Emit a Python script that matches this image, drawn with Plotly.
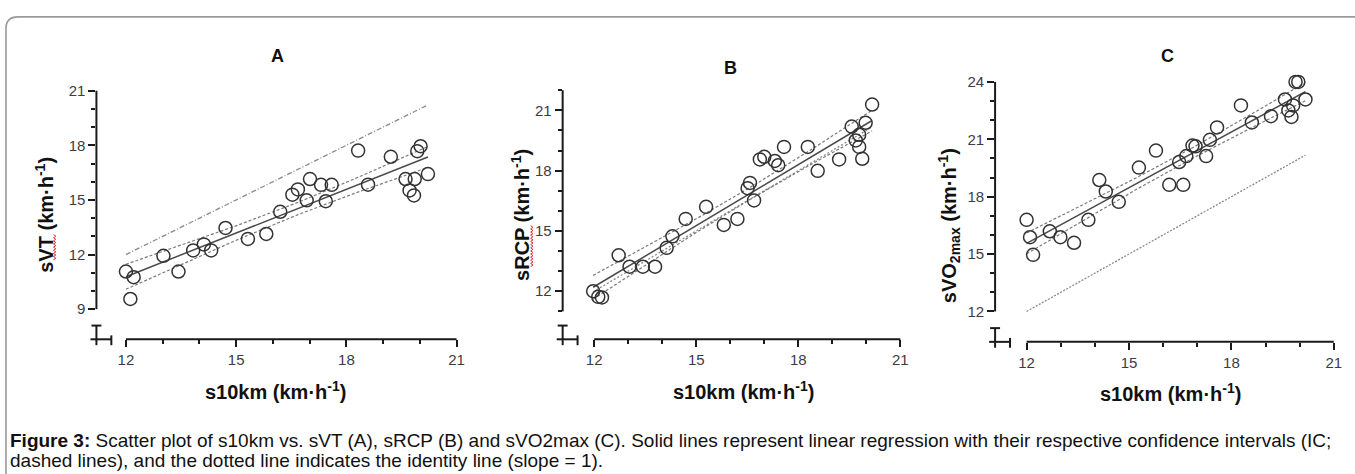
import numpy as np
import plotly.graph_objects as go

W, H = 1355, 474

# ---------------- data ----------------
x_ticks = [12, 15, 18, 21]
x_minor = [13, 14, 16, 17, 19, 20]

a_s10km = [12.0, 12.21, 12.12, 13.02, 13.43, 13.83, 14.12, 14.32, 14.71, 15.32,
           15.82, 16.2, 16.53, 16.68, 16.92, 17.01, 17.31, 17.44, 17.6, 18.32,
           18.59, 19.21, 19.61, 19.72, 19.84, 19.86, 19.93, 20.02, 20.22]
a_svt = [11.07, 10.76, 9.56, 11.93, 11.07, 12.23, 12.56, 12.23, 13.46, 12.86,
         13.13, 14.35, 15.29, 15.58, 14.98, 16.15, 15.83, 14.93, 15.83, 17.71,
         15.84, 17.37, 16.15, 15.52, 15.25, 16.15, 17.68, 17.95, 16.42]

b_s10km = [11.97, 12.12, 12.23, 12.72, 13.04, 13.43, 13.79, 14.13, 14.3, 14.69,
           15.29, 15.81, 16.21, 16.51, 16.58, 16.7, 16.87, 17.0, 17.31, 17.41,
           17.58, 18.28, 18.57, 19.2, 19.57, 19.69, 19.79, 19.79, 19.88, 19.98, 20.17]
b_srcp = [12.0, 11.72, 11.69, 13.79, 13.22, 13.22, 13.22, 14.16, 14.73, 15.6,
          16.2, 15.3, 15.6, 17.13, 17.39, 16.52, 18.56, 18.69, 18.48, 18.27,
          19.18, 19.18, 17.99, 18.56, 20.19, 19.5, 19.78, 19.18, 18.59, 20.38, 21.29]

c_s10km = [12.0, 12.1, 12.19, 12.68, 12.99, 13.39, 13.81, 14.13, 14.32, 14.7,
           15.29, 15.79, 16.18, 16.59, 16.47, 16.68, 16.86, 16.95, 17.26, 17.37,
           17.58, 18.28, 18.6, 19.16, 19.57, 19.67, 19.76, 19.81, 19.88, 19.96, 20.17]
c_svo2max = [16.79, 15.88, 14.96, 16.19, 15.88, 15.59, 16.79, 18.87, 18.27, 17.73,
             19.52, 20.41, 18.62, 18.62, 19.81, 20.12, 20.67, 20.63, 20.12, 20.97,
             21.62, 22.77, 21.88, 22.21, 23.08, 22.51, 22.17, 22.77, 24.0, 24.0, 23.08]

yA_ticks = [9, 12, 15, 18, 21]
yA_minor = [10, 11, 13, 14, 16, 17, 19, 20]
yB_ticks = [12, 15, 18, 21]
yB_minor = [11, 13, 14, 16, 17, 19, 20, 22]
yC_ticks = [12, 15, 18, 21, 24]
yC_minor = [13, 14, 16, 17, 19, 20, 22, 23]

panel_titles = ["A", "B", "C"]
y_titles = ["sVT (km·h<sup>-1</sup>)", "sRCP (km·h<sup>-1</sup>)",
            "sVO<sub>2max</sub> (km·h<sup>-1</sup>)"]
x_title = "s10km (km·h<sup>-1</sup>)"
caption1 = ("<b>Figure 3:</b> Scatter plot of s10km vs. sVT (A), sRCP (B) and sVO2max (C). "
            "Solid lines represent linear regression with their respective confidence intervals (IC;")
caption2 = "dashed lines), and the dotted line indicates the identity line (slope = 1)."

T_CRIT = 2.05  # two-sided 95% t value (df ~ 27-29)

# ---------------- layout geometry (pixels) ----------------
panels = [
    dict(x=a_s10km, y=a_svt, yt=yA_ticks, ym=yA_minor, yax=(9, 21),
         X0=97, x12=126.7, x21=459.3, Yb=336.7, Yt=83.3, yref=(9, 306.0, 21, 83.3),
         title_xy=(279, 48), ytitle_xy=(44, 210), xtitle_xy=(277, 389),
         squig=(55, 230, 257), ident_dash="5px,2px,1px,2px"),
    dict(x=b_s10km, y=b_srcp, yt=yB_ticks, ym=yB_minor, yax=(11, 22),
         X0=566, x12=597.7, x21=905.7, Yb=336.7, Yt=82.7, yref=(12, 287.7, 21, 103.3),
         title_xy=(735, 60), ytitle_xy=(523, 210), xtitle_xy=(748, 389),
         squig=(535, 221, 263), ident_dash="2px,2px"),
    dict(x=c_s10km, y=c_svo2max, yt=yC_ticks, ym=yC_minor, yax=(12, 24),
         X0=1001, x12=1032.7, x21=1341.7, Yb=339.3, Yt=74.3, yref=(12, 308.3, 24, 74.3),
         title_xy=(1174, 48), ytitle_xy=(955, 221), xtitle_xy=(1177, 391),
         squig=None, ident_dash="2px,1.5px"),
]


def fx(p):
    return p / W


def fy(p):
    return 1 - p / H


FONT = "Liberation Sans, Arial, sans-serif"
AX = "#1a1a1a"
fig = go.Figure()
shapes = []
annotations = []

for i, P in enumerate(panels, start=1):
    xa = "x" if i == 1 else f"x{i}"
    ya = "y" if i == 1 else f"y{i}"
    xppu = (P["x21"] - P["x12"]) / 9.0
    xmin = 12 - (P["x12"] - P["X0"]) / xppu
    v_lo, p_lo, v_hi, p_hi = P["yref"]
    yppu = (p_lo - p_hi) / (v_hi - v_lo)
    ymin = v_lo - (P["Yb"] - p_lo) / yppu
    ymax = v_hi + (p_hi - P["Yt"]) / yppu

    def ypx(v, v_lo=v_lo, p_lo=p_lo, yppu=yppu):
        return p_lo - (v - v_lo) * yppu

    def xpx(v, P=P, xppu=xppu):
        return P["x12"] + (v - 12) * xppu

    x = np.array(P["x"], dtype=float)
    y = np.array(P["y"], dtype=float)
    n = len(x)
    slope, icpt = np.polyfit(x, y, 1)
    xs = np.linspace(x.min(), x.max(), 60)
    yfit = slope * xs + icpt
    resid = y - (slope * x + icpt)
    s = np.sqrt(np.sum(resid ** 2) / (n - 2))
    sxx = np.sum((x - x.mean()) ** 2)
    half = T_CRIT * s * np.sqrt(1.0 / n + (xs - x.mean()) ** 2 / sxx)

    ident = np.array([x.min(), x.max()])
    fig.add_trace(go.Scatter(x=ident, y=ident, mode="lines", xaxis=xa, yaxis=ya,
                             line=dict(color="#8a8a8a", width=1.3, dash=P["ident_dash"]),
                             hoverinfo="skip"))
    for band in (yfit + half, yfit - half):
        fig.add_trace(go.Scatter(x=xs, y=band, mode="lines", xaxis=xa, yaxis=ya,
                                 line=dict(color="#7a7a7a", width=1.2, dash="3px,2px"),
                                 hoverinfo="skip"))
    fig.add_trace(go.Scatter(x=xs, y=yfit, mode="lines", xaxis=xa, yaxis=ya,
                             line=dict(color="#4a4a4a", width=1.5), hoverinfo="skip"))
    fig.add_trace(go.Scatter(x=x, y=y, mode="markers", xaxis=xa, yaxis=ya, cliponaxis=False,
                             marker=dict(symbol="circle-open", size=13, color="#333333",
                                         line=dict(width=1.5, color="#333333"))))

    tickfont = dict(family=FONT, size=15, color="#3c3c48")
    fig.update_layout(**{
        ("xaxis" if i == 1 else f"xaxis{i}"): dict(
            domain=[fx(P["X0"]), fx(P["x21"])], range=[xmin, 21], anchor=ya,
            showline=False, showgrid=False, zeroline=False,
            tickmode="array", tickvals=x_ticks, ticktext=[str(t) for t in x_ticks],
            ticks="outside", ticklen=7, tickwidth=2, tickcolor=AX, tickfont=tickfont,
            minor=dict(tickmode="array", tickvals=x_minor, ticks="outside",
                       ticklen=4, tickwidth=2, tickcolor=AX, showgrid=False),
            fixedrange=True),
        ("yaxis" if i == 1 else f"yaxis{i}"): dict(
            domain=[fy(P["Yb"]), fy(P["Yt"])], range=[ymin, ymax], anchor=xa,
            showline=False, showgrid=False, zeroline=False,
            tickmode="array", tickvals=P["yt"], ticktext=[str(t) for t in P["yt"]],
            ticks="outside", ticklen=7, tickwidth=2, tickcolor=AX, tickfont=tickfont,
            minor=dict(tickmode="array", tickvals=P["ym"], ticks="outside",
                       ticklen=4, tickwidth=2, tickcolor=AX, showgrid=False),
            fixedrange=True),
    })

    # axis lines (offset, Prism style)
    X0, Yb = P["X0"], P["Yb"]
    line = dict(color=AX, width=2)
    shapes.append(dict(type="line", xref="paper", yref="paper",
                       x0=fx(xpx(12)), x1=fx(xpx(21)), y0=fy(Yb), y1=fy(Yb), line=line))
    shapes.append(dict(type="line", xref="paper", yref="paper",
                       x0=fx(X0), x1=fx(X0), y0=fy(ypx(P["yax"][0])), y1=fy(ypx(P["yax"][1])),
                       line=line))
    # origin stub
    shapes.append(dict(type="line", xref="paper", yref="paper",
                       x0=fx(X0), x1=fx(X0), y0=fy(Yb - 14), y1=fy(Yb + 6), line=line))
    shapes.append(dict(type="line", xref="paper", yref="paper",
                       x0=fx(X0 - 5), x1=fx(X0 + 5), y0=fy(Yb - 14), y1=fy(Yb - 14), line=line))
    shapes.append(dict(type="line", xref="paper", yref="paper",
                       x0=fx(X0 - 6), x1=fx(X0 + 15), y0=fy(Yb), y1=fy(Yb), line=line))
    shapes.append(dict(type="line", xref="paper", yref="paper",
                       x0=fx(X0 + 15), x1=fx(X0 + 15), y0=fy(Yb - 4), y1=fy(Yb + 6), line=line))

    # red spell-check squiggle
    if P["squig"] is not None:
        sx, sy0, sy1 = P["squig"]
        pts = []
        yy = sy0
        k = 0
        while yy <= sy1:
            pts.append((sx + (1.2 if k % 2 else -1.2), yy))
            yy += 1.6
            k += 1
        path = "M " + " L ".join(f"{fx(a):.5f},{fy(b):.5f}" for a, b in pts)
        shapes.append(dict(type="path", xref="paper", yref="paper", path=path,
                           line=dict(color="#e03030", width=1)))

    tx, ty = P["title_xy"]
    annotations.append(dict(text=f"<b>{panel_titles[i-1]}</b>", x=fx(tx), y=fy(ty),
                            xref="paper", yref="paper", showarrow=False,
                            xanchor="center", yanchor="middle",
                            font=dict(family=FONT, size=18, color="#111")))
    tx, ty = P["ytitle_xy"]
    annotations.append(dict(text=f"<b>{y_titles[i-1]}</b>", x=fx(tx), y=fy(ty),
                            xref="paper", yref="paper", showarrow=False, textangle=-90,
                            xanchor="center", yanchor="middle",
                            font=dict(family=FONT, size=20, color="#111")))
    tx, ty = P["xtitle_xy"]
    annotations.append(dict(text=f"<b>{x_title}</b>", x=fx(tx), y=fy(ty),
                            xref="paper", yref="paper", showarrow=False,
                            xanchor="center", yanchor="middle",
                            font=dict(family=FONT, size=20, color="#111")))

# caption
annotations.append(dict(text=caption1, x=fx(8), y=fy(440), xref="paper", yref="paper",
                        showarrow=False, xanchor="left", yanchor="middle",
                        font=dict(family=FONT, size=19, color="#111")))
annotations.append(dict(text=caption2, x=fx(8), y=fy(460), xref="paper", yref="paper",
                        showarrow=False, xanchor="left", yanchor="middle",
                        font=dict(family=FONT, size=19, color="#111")))

# rounded border (top-left corner visible, other edges run off the picture)
r = 12
border = (f"M {fx(6)},{fy(H + 10)} L {fx(6)},{fy(8 + r)} "
          f"Q {fx(6)},{fy(8)} {fx(6 + r)},{fy(8)} L {fx(W + 10)},{fy(8)}")
shapes.append(dict(type="path", xref="paper", yref="paper", path=border,
                   line=dict(color="#9a9a9a", width=1.6)))

fig.update_layout(width=W, height=H, margin=dict(l=0, r=0, t=0, b=0),
                  paper_bgcolor="white", plot_bgcolor="white", showlegend=False,
                  shapes=shapes, annotations=annotations)

pin = ("document.body.style.margin='0';document.body.style.overflow='hidden';"
       "var d=document.getElementById('{plot_id}');"
       "d.style.position='fixed';d.style.left='0px';d.style.top='0px';")
fig.write_html("out.html", post_script=pin, config={"displayModeBar": False})
